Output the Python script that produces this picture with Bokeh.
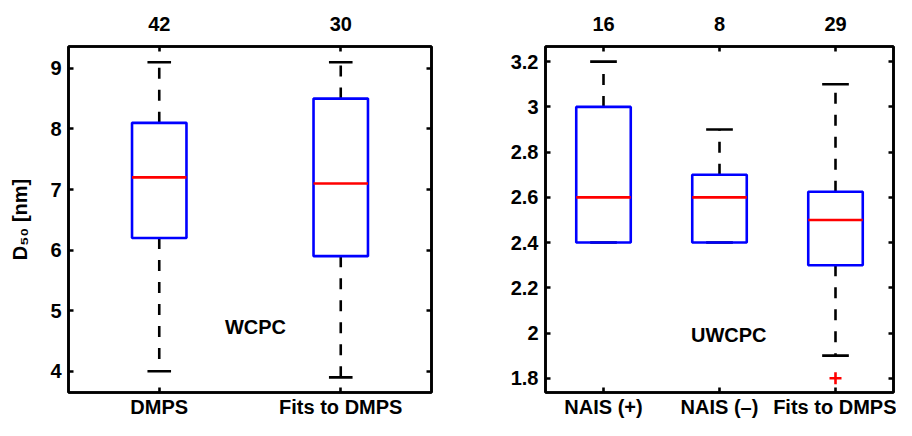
from bokeh.embed import file_html
from bokeh.layouts import row
from bokeh.models import FixedTicker, Label, LinearAxis, Range1d
from bokeh.plotting import figure
from bokeh.resources import INLINE

FONT = "Liberation Sans"
BLUE = "#0000ff"
RED = "#ff0000"
LW = 2.6

# left panel (WCPC)
wcpc_names = ["DMPS", "Fits to DMPS"]
wcpc_counts = ["42", "30"]
wcpc_upper = [9.1, 9.1]
wcpc_q3 = [8.1, 8.5]
wcpc_median = [7.2, 7.1]
wcpc_q1 = [6.2, 5.9]
wcpc_lower = [4.0, 3.9]
wcpc_yticks = [4, 5, 6, 7, 8, 9]
wcpc_ylabels = ["4", "5", "6", "7", "8", "9"]

# right panel (UWCPC)
uwcpc_names = ["NAIS (+)", "NAIS (\u2013)", "Fits to DMPS"]
uwcpc_counts = ["16", "8", "29"]
uwcpc_upper = [3.2, 2.9, 3.1]
uwcpc_q3 = [3.0, 2.7, 2.625]
uwcpc_median = [2.6, 2.6, 2.5]
uwcpc_q1 = [2.4, 2.4, 2.3]
uwcpc_lower = [2.4, 2.4, 1.9]
uwcpc_outlier_x = [3]
uwcpc_outlier_y = [1.8]
uwcpc_yticks = [1.8, 2.0, 2.2, 2.4, 2.6, 2.8, 3.0, 3.2]
uwcpc_ylabels = ["1.8", "2", "2.2", "2.4", "2.6", "2.8", "3", "3.2"]


def style_axis(ax, ticks, labels, standoff):
    ax.ticker = FixedTicker(ticks=ticks)
    ax.major_label_overrides = dict(zip(ticks, labels))
    ax.major_tick_in = 5
    ax.major_tick_out = 0
    ax.minor_tick_line_color = None
    ax.major_tick_line_width = LW
    ax.axis_line_width = LW
    ax.major_label_standoff = standoff
    ax.major_label_text_font = FONT
    ax.major_label_text_font_style = "bold"
    ax.major_label_text_font_size = "20px"
    ax.major_label_text_color = "black"


def panel(names, counts, upper, q3, med, q1, lower, yticks, ylabels, ylim,
          box_w, cap_w, width, left, right, top, note, note_x, note_y):
    n = len(names)
    xs = list(range(1, n + 1))
    p = figure(width=width, height=420, x_range=Range1d(0.5, n + 0.5),
               y_range=Range1d(*ylim), output_backend="svg",
               toolbar_location=None, min_border_left=left,
               min_border_right=right, min_border_top=top,
               min_border_bottom=20)
    p.grid.visible = False
    p.outline_line_color = "black"
    p.outline_line_width = LW
    p.background_fill_color = "white"
    p.border_fill_color = "white"

    style_axis(p.xaxis[0], xs, names, 3)
    style_axis(p.yaxis[0], yticks, ylabels, 7)

    top_ax = LinearAxis()
    style_axis(top_ax, xs, counts, 16)
    p.add_layout(top_ax, "above")

    right_ax = LinearAxis()
    style_axis(right_ax, yticks, [""] * len(yticks), 0)
    right_ax.major_label_text_font_size = "0px"
    p.add_layout(right_ax, "right")

    # whiskers (dashed) and caps
    p.segment(x0=xs, y0=q3, x1=xs, y1=upper, line_color="black",
              line_width=LW, line_dash="11 11")
    p.segment(x0=xs, y0=q1, x1=xs, y1=lower, line_color="black",
              line_width=LW, line_dash="11 11")
    cl = [x - cap_w / 2 for x in xs]
    cr = [x + cap_w / 2 for x in xs]
    p.segment(x0=cl, y0=upper, x1=cr, y1=upper, line_color="black", line_width=LW)
    p.segment(x0=cl, y0=lower, x1=cr, y1=lower, line_color="black", line_width=LW)

    # boxes and medians
    bl = [x - box_w / 2 for x in xs]
    br = [x + box_w / 2 for x in xs]
    p.quad(left=bl, right=br, bottom=q1, top=q3, fill_color=None,
           line_color=BLUE, line_width=LW)
    p.segment(x0=bl, y0=med, x1=br, y1=med, line_color=RED, line_width=LW)

    p.add_layout(Label(x=note_x, y=note_y, text=note, text_font=FONT,
                       text_font_style="bold", text_font_size="20px",
                       text_color="black", text_align="center",
                       text_baseline="middle"))
    return p


p1 = panel(wcpc_names, wcpc_counts, wcpc_upper, wcpc_q3, wcpc_median,
           wcpc_q1, wcpc_lower, wcpc_yticks, wcpc_ylabels, (3.65, 9.36),
           0.3, 0.13, 456, 68, 25, 46, "WCPC", 1.53, 4.73)
ya = p1.yaxis[0]
ya.axis_label = "D\u2085\u2080 [nm]"
ya.axis_label_text_font = FONT
ya.axis_label_text_font_style = "bold"
ya.axis_label_text_font_size = "20px"
ya.axis_label_text_color = "black"
ya.axis_label_standoff = 16

p2 = panel(uwcpc_names, uwcpc_counts, uwcpc_upper, uwcpc_q3, uwcpc_median,
           uwcpc_q1, uwcpc_lower, uwcpc_yticks, uwcpc_ylabels, (1.737, 3.267),
           0.47, 0.23, 440, 89, 3, 43, "UWCPC", 2.08, 1.993)
p2.scatter(x=uwcpc_outlier_x, y=uwcpc_outlier_y, marker="cross", size=12,
           line_color=RED, line_width=LW)

layout = row(p1, p2)
open("out.html", "w").write(file_html(layout, INLINE))
